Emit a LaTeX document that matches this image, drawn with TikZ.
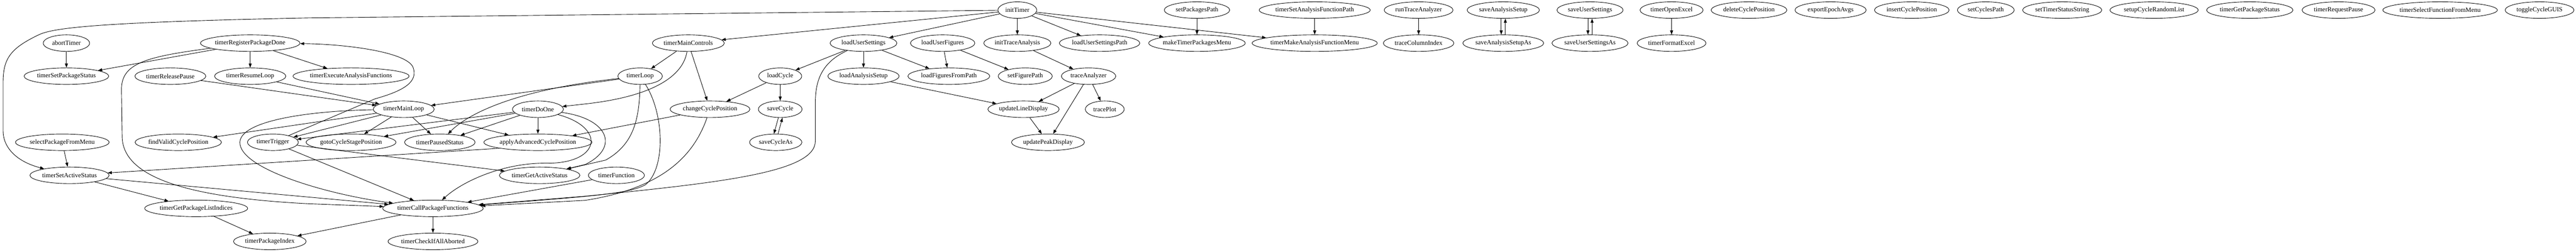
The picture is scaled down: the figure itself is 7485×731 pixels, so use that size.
\documentclass[tikz,border=0pt]{standalone}
\usepackage{fontspec}
\setmainfont{Liberation Serif}
\usepackage{tikz}
\usetikzlibrary{shapes}
\usetikzlibrary{arrows.meta}
\tikzset{fn/.style={ellipse, draw, line width=1pt, inner sep=0pt, minimum height=36pt, font=\fontsize{14}{16}\selectfont}}
\tikzset{call/.style={-{Triangle[length=9pt,width=6.5pt]}, line width=1pt}}

\begin{document}
\begin{tikzpicture}[x=0.75pt,y=-0.75pt]
  \useasboundingbox (0,0) rectangle (7485,731);
  \foreach \nm/\x/\r/\w in {
    initTimer/2956/0/113,
    setPackagesPath/3478/0/190,
    timerSetAnalysisFunctionPath/3820/0/317,
    runTraceAnalyzer/4122/0/200,
    saveAnalysisSetup/4368/0/210,
    saveUserSettings/4620/0/192,
    timerOpenExcel/4857/0/183,
    deleteCyclePosition/5082/0/220,
    exportEpochAvgs/5319/0/207,
    insertCyclePosition/5555/0/217,
    setCyclesPath/5770/0/165,
    setTimerStatusString/5992/0/230,
    setupCycleRandomList/6259/0/256,
    timerGetPackageStatus/6537/0/251,
    timerRequestPause/6795/0/212,
    timerSelectFunctionFromMenu/7090/0/329,
    toggleCycleGUIS/7379/0/200,
    abortTimer/193/1/135,
    timerRegisterPackageDone/727/1/289,
    timerMainControls/2000/1/209,
    loadUserSettings/2509/1/194,
    loadUserFigures/2739/1/187,
    initTraceAnalysis/2956/1/195,
    loadUserSettingsPath/3195/1/234,
    makeTimerPackagesMenu/3478/1/280,
    timerMakeAnalysisFunctionMenu/3820/1/350,
    traceColumnIndex/4122/1/205,
    saveAnalysisSetupAs/4368/1/235,
    saveUserSettingsAs/4620/1/221,
    timerFormatExcel/4857/1/200,
    timerSetPackageStatus/193/2/246,
    timerReleasePause/495/2/206,
    timerResumeLoop/727/2/207,
    timerExecuteAnalysisFunctions/1020/2/330,
    timerLoop/1860/2/129,
    loadCycle/2267/2/125,
    loadAnalysisSetup/2509/2/207,
    loadFiguresFromPath/2757/2/238,
    setFigurePath/2979/2/157,
    traceAnalyzer/3163/2/158,
    timerMainLoop/1173/3/177,
    timerDoOne/1563/3/148,
    changeCyclePosition/2063/3/232,
    saveCycle/2267/3/127,
    updateLineDisplay/2974/3/207,
    tracePlot/3210/3/113,
    selectPackageFromMenu/181/4/272,
    findValidCyclePosition/518/4/251,
    timerTrigger/793/4/148,
    gotoCycleStagePosition/1020/4/261,
    timerPausedStatus/1278/4/205,
    applyAdvancedCyclePosition/1563/4/314,
    saveCycleAs/2254/4/152,
    updatePeakDisplay/3045/4/212,
    timerSetActiveStatus/202/5/230,
    timerGetActiveStatus/1568/5/234,
    timerFunction/1791/5/163,
    timerGetPackageListIndices/570/6/298,
    timerCallPackageFunctions/1258/6/292,
    timerPackageIndex/784/7/211,
    timerCheckIfAllAborted/1258/7/261%
  } {
    \node[fn, minimum width=\w*0.75pt] (\nm) at (\x, {29.3+96*\r}) {\nm};
  }
  \begin{scope}[every edge/.append style={call}]
    \foreach \u/\v in {
      initTimer/timerMainControls,
      initTimer/loadUserSettings,
      initTimer/initTraceAnalysis,
      initTimer/loadUserSettingsPath,
      initTimer/makeTimerPackagesMenu,
      initTimer/timerMakeAnalysisFunctionMenu,
      setPackagesPath/makeTimerPackagesMenu,
      timerSetAnalysisFunctionPath/timerMakeAnalysisFunctionMenu,
      runTraceAnalyzer/traceColumnIndex,
      timerOpenExcel/timerFormatExcel,
      abortTimer/timerSetPackageStatus,
      timerRegisterPackageDone/timerSetPackageStatus,
      timerRegisterPackageDone/timerResumeLoop,
      timerRegisterPackageDone/timerExecuteAnalysisFunctions,
      timerMainControls/timerLoop,
      timerMainControls/changeCyclePosition,
      loadUserSettings/loadCycle,
      loadUserSettings/loadAnalysisSetup,
      loadUserSettings/loadFiguresFromPath,
      loadUserFigures/loadFiguresFromPath,
      loadUserFigures/setFigurePath,
      initTraceAnalysis/traceAnalyzer,
      timerReleasePause/timerMainLoop,
      timerResumeLoop/timerMainLoop,
      timerLoop/timerMainLoop,
      loadCycle/changeCyclePosition,
      loadCycle/saveCycle,
      loadAnalysisSetup/updateLineDisplay,
      traceAnalyzer/updateLineDisplay,
      traceAnalyzer/updatePeakDisplay,
      traceAnalyzer/tracePlot,
      timerMainLoop/findValidCyclePosition,
      timerMainLoop/timerTrigger,
      timerMainLoop/gotoCycleStagePosition,
      timerMainLoop/timerPausedStatus,
      timerMainLoop/applyAdvancedCyclePosition,
      timerDoOne/timerTrigger,
      timerDoOne/gotoCycleStagePosition,
      timerDoOne/timerPausedStatus,
      timerDoOne/applyAdvancedCyclePosition,
      changeCyclePosition/applyAdvancedCyclePosition,
      updateLineDisplay/updatePeakDisplay,
      selectPackageFromMenu/timerSetActiveStatus,
      timerTrigger/timerGetActiveStatus,
      timerTrigger/timerCallPackageFunctions,
      timerSetActiveStatus/timerGetPackageListIndices,
      timerSetActiveStatus/timerCallPackageFunctions,
      timerFunction/timerCallPackageFunctions,
      timerGetPackageListIndices/timerPackageIndex,
      timerCallPackageFunctions/timerPackageIndex,
      timerCallPackageFunctions/timerCheckIfAllAborted%
    }{
      \draw (\u) edge (\v);
    }
  \end{scope}
  \draw[call] (applyAdvancedCyclePosition.south west) -- (timerSetActiveStatus);
  \draw[call] ([xshift=-4pt]saveCycle.south) -- ([xshift=-4pt]saveCycleAs.north);
  \draw[call] ([xshift=5pt]saveCycleAs.north) -- ([xshift=5pt]saveCycle.south);
  \draw[call] ([xshift=-4.5pt]saveAnalysisSetup.south) -- ([xshift=-4.5pt]saveAnalysisSetupAs.north);
  \draw[call] ([xshift=4.5pt]saveAnalysisSetupAs.north) -- ([xshift=4.5pt]saveAnalysisSetup.south);
  \draw[call] ([xshift=-4.5pt]saveUserSettings.south) -- ([xshift=-4.5pt]saveUserSettingsAs.north);
  \draw[call] ([xshift=4.5pt]saveUserSettingsAs.north) -- ([xshift=4.5pt]saveUserSettings.south);
  \draw[call] (initTimer) -- (900,52) .. controls (300,64) and (160,80) .. (115,100)
    .. controls (30,140) and (9,170) .. (9,240) -- (9,380)
    .. controls (9,430) and (50,470) .. (timerSetActiveStatus);
  \draw[call] (timerTrigger) -- (1090,287) .. controls (1180,262) and (1215,235) .. (1200,195)
    .. controls (1180,150) and (1000,128) .. (timerRegisterPackageDone);
  \draw[call] (timerRegisterPackageDone) .. controls (420,165) and (353,185) .. (353,260) -- (355,400)
    .. controls (360,520) and (560,575) .. (900,592) -- (timerCallPackageFunctions);
  \draw[call] (timerMainLoop) .. controls (900,322) and (700,350) .. (697,413)
    .. controls (695,490) and (950,565) .. (timerCallPackageFunctions);
  \draw[call] (timerMainControls) .. controls (1985,220) and (1900,280) .. (1700,302) -- (timerDoOne);
  \draw[call] (loadUserSettings) .. controls (2390,180) and (2369,230) .. (2369,300) -- (2369,410)
    .. controls (2369,500) and (2100,530) .. (1700,570) -- (timerCallPackageFunctions);
  \draw[call] (timerLoop) .. controls (1930,330) and (1935,490) .. (1875,537)
    .. controls (1830,560) and (1760,568) .. (timerCallPackageFunctions);
  \draw[call] (changeCyclePosition) .. controls (2020,440) and (1940,545) .. (1700,582) -- (timerCallPackageFunctions);
  \draw[call] (timerLoop) .. controls (1858,350) and (1840,420) .. (1760,465) -- (timerGetActiveStatus);
  \draw[call] (timerDoOne) .. controls (1770,345) and (1800,430) .. (1700,478) -- (timerGetActiveStatus);
  \draw[call] (timerDoOne) .. controls (1760,370) and (1745,470) .. (1600,474)
    .. controls (1460,470) and (1340,530) .. (timerCallPackageFunctions);
  \draw[call] (timerLoop) .. controls (1500,260) and (1360,330) .. (timerPausedStatus);
\end{tikzpicture}
\end{document}
